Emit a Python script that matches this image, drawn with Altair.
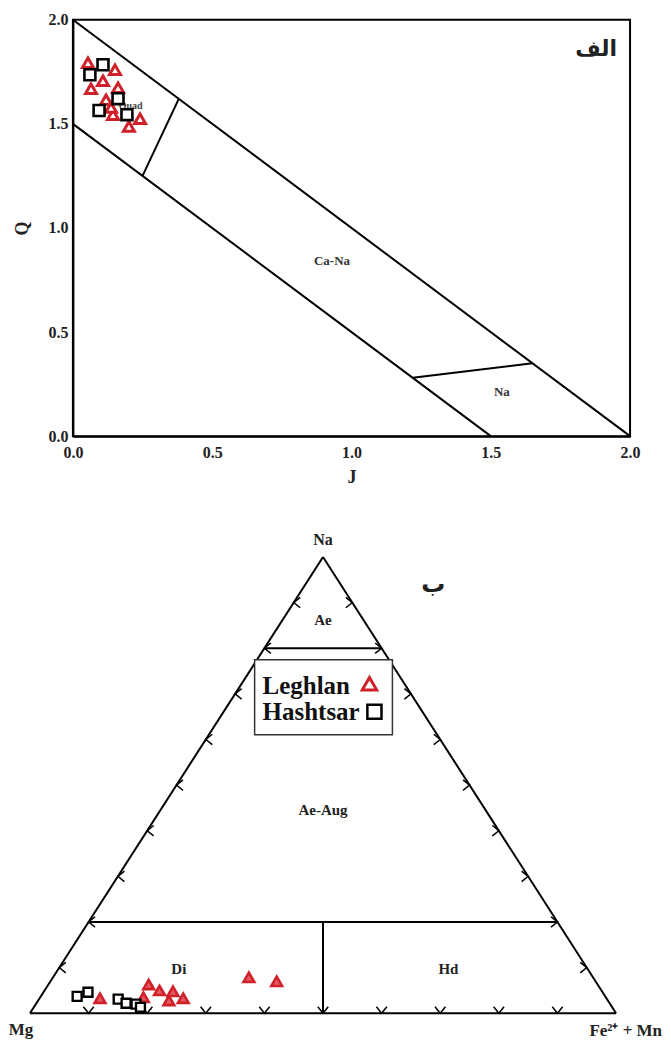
import altair as alt
import pandas as pd

# ---------------- Panel "الف": Q – J diagram ----------------
leg_J = [0.054, 0.151, 0.065, 0.108, 0.162, 0.119, 0.144, 0.201, 0.241, 0.137]
leg_Q = [1.794, 1.760, 1.669, 1.707, 1.674, 1.616, 1.544, 1.487, 1.525, 1.578]
hash_J = [0.061, 0.108, 0.162, 0.094, 0.194]
hash_Q = [1.736, 1.784, 1.621, 1.564, 1.544]

seg_J1 = [0.0, 0.0, 0.25, 1.22]
seg_Q1 = [2.0, 1.5, 1.25, 0.28]
seg_J2 = [2.0, 1.5, 0.38, 1.65]
seg_Q2 = [0.0, 0.0, 1.62, 0.35]

field_names = ["Ca-Na", "Na"]
field_J = [0.93, 1.54]
field_Q = [0.84, 0.21]
quad_name = ["Quad"]
quad_J = [0.25]
quad_Q = [1.585]

axis_ticks = [0.0, 0.5, 1.0, 1.5, 2.0]

# ---------------- Panel "ب": Na – Mg – (Fe2+ + Mn) ternary ----------------
t_leg_na = [0.033, 0.035, 0.063, 0.050, 0.048, 0.028, 0.033, 0.079, 0.070]
t_leg_fe = [0.103, 0.176, 0.171, 0.196, 0.220, 0.223, 0.245, 0.334, 0.386]
t_hash_na = [0.037, 0.046, 0.031, 0.022, 0.020, 0.013]
t_hash_fe = [0.062, 0.076, 0.135, 0.153, 0.171, 0.182]

# boundary lines, end points as (Na, Fe) fractions
bnd_na1 = [0.0, 1.0, 0.0, 0.8, 0.2, 0.0]
bnd_fe1 = [0.0, 0.0, 0.0, 0.0, 0.0, 0.5]
bnd_na2 = [1.0, 0.0, 0.0, 0.8, 0.2, 0.2]
bnd_fe2 = [0.0, 1.0, 1.0, 0.2, 0.8, 0.4]

tick_steps = [0.1, 0.2, 0.3, 0.4, 0.5, 0.6, 0.7, 0.8, 0.9]

tern_labels = ["Ae", "Ae-Aug", "Di", "Hd"]
tern_lab_na = [0.862, 0.446, 0.096, 0.096]
tern_lab_fe = [0.069, 0.277, 0.206, 0.666]

legend_names = ["Leghlan", "Hashtsar"]

RED = "#d0202a"
SERIF = "Liberation Serif"


def tern_u(na, fe):
    return [f + n / 2.0 for n, f in zip(na, fe)]


# ======================= TOP PANEL =======================
W_TOP, H_TOP = 558, 417
xs = alt.Scale(domain=[0, 2], nice=False, zero=False)
ys = alt.Scale(domain=[0, 2], nice=False, zero=False)

seg_df = pd.DataFrame({"J1": seg_J1, "Q1": seg_Q1, "J2": seg_J2, "Q2": seg_Q2})
axis_common = dict(
    values=axis_ticks, format=".1f", grid=False, ticks=False,
    domainColor="black", domainWidth=2,
    labelFont=SERIF, labelFontSize=16, labelFontWeight="bold", labelColor="#222",
    titleFont=SERIF, titleFontSize=18, titleFontWeight="bold", titleColor="#222",
    labelFlush=False,
)

top_lines = alt.Chart(seg_df).mark_rule(color="black", strokeWidth=2).encode(
    x=alt.X("J1:Q", scale=xs, axis=alt.Axis(title="J", labelPadding=8, titlePadding=8, **axis_common)),
    y=alt.Y("Q1:Q", scale=ys, axis=alt.Axis(title="Q", labelPadding=5, titlePadding=16, **axis_common)),
    x2="J2:Q",
    y2="Q2:Q",
)

field_df = pd.DataFrame({"name": field_names, "J": field_J, "Q": field_Q})
top_fields = alt.Chart(field_df).mark_text(
    font=SERIF, fontSize=13, fontWeight="bold", color="#333"
).encode(x=alt.X("J:Q", scale=xs), y=alt.Y("Q:Q", scale=ys), text="name:N")

quad_df = pd.DataFrame({"name": quad_name, "J": quad_J, "Q": quad_Q})
top_quad = alt.Chart(quad_df).mark_text(
    font=SERIF, fontSize=10, fontWeight="bold", color="#444", align="right"
).encode(x=alt.X("J:Q", scale=xs), y=alt.Y("Q:Q", scale=ys), text="name:N")

top_tag = alt.Chart(pd.DataFrame({"t": ["الف"]})).mark_text(
    font="DejaVu Sans", fontSize=22, fontWeight="bold", color="#222"
).encode(x=alt.value(524), y=alt.value(29), text="t:N")

leg_df = pd.DataFrame({"J": leg_J, "Q": leg_Q})
hash_df = pd.DataFrame({"J": hash_J, "Q": hash_Q})
top_leg = alt.Chart(leg_df).mark_point(
    shape="triangle-up", size=120, filled=True, fill="white", stroke=RED, strokeWidth=3, opacity=1
).encode(x=alt.X("J:Q", scale=xs), y=alt.Y("Q:Q", scale=ys))
top_hash = alt.Chart(hash_df).mark_point(
    shape="square", size=120, filled=True, fill="white", stroke="black", strokeWidth=2.6, opacity=1
).encode(x=alt.X("J:Q", scale=xs), y=alt.Y("Q:Q", scale=ys))

top = alt.layer(top_lines, top_fields, top_quad, top_tag, top_leg, top_hash).properties(
    width=W_TOP, height=H_TOP,
    view=alt.ViewBackground(stroke="black", strokeWidth=2),
)

# ======================= BOTTOM PANEL (ternary) =======================
W_BOT, H_BOT = 544, 457
U_LEFT = 43.0 / 587.0
us = alt.Scale(domain=[U_LEFT, 1.0], nice=False, zero=False)
vs = alt.Scale(domain=[0.0, 1.0], nice=False, zero=False)

bnd_df = pd.DataFrame({
    "u1": tern_u(bnd_na1, bnd_fe1), "v1": bnd_na1,
    "u2": tern_u(bnd_na2, bnd_fe2), "v2": bnd_na2,
})
bot_lines = alt.Chart(bnd_df).mark_rule(color="black", strokeWidth=2).encode(
    x=alt.X("u1:Q", scale=us, axis=None),
    y=alt.Y("v1:Q", scale=vs, axis=None),
    x2="u2:Q", y2="v2:Q",
)

zeros = [0.0] * len(tick_steps)
base_df = pd.DataFrame({"u": tern_u(zeros, tick_steps), "v": zeros})
left_df = pd.DataFrame({"u": tern_u(tick_steps, zeros), "v": tick_steps})
right_df = pd.DataFrame({"u": tern_u(tick_steps, [1 - s for s in tick_steps]), "v": tick_steps})


def chevrons(df, path):
    return alt.Chart(df).mark_point(
        shape=path, size=170, filled=False, color="black", strokeWidth=1.5, opacity=1
    ).encode(x=alt.X("u:Q", scale=us), y=alt.Y("v:Q", scale=vs))


tick_base = chevrons(base_df, "M-0.8,-1L0,0L0.8,-1")
tick_left = chevrons(left_df, "M1,-0.8L0,0L1,0.8")
tick_right = chevrons(right_df, "M-1,-0.8L0,0L-1,0.8")

lab_df = pd.DataFrame({"name": tern_labels, "u": tern_u(tern_lab_na, tern_lab_fe), "v": tern_lab_na})
bot_fields = alt.Chart(lab_df).mark_text(
    font=SERIF, fontSize=15, fontWeight="bold", color="#222"
).encode(x=alt.X("u:Q", scale=us), y=alt.Y("v:Q", scale=vs), text="name:N")

apex_na = alt.Chart(pd.DataFrame({"t": ["Na"], "u": tern_u([1.0], [0.0]), "v": [1.0]})).mark_text(
    font=SERIF, fontSize=16, fontWeight="bold", color="#222", dy=-17
).encode(x=alt.X("u:Q", scale=us), y=alt.Y("v:Q", scale=vs), text="t:N")
apex_mg = alt.Chart(pd.DataFrame({"t": ["Mg"], "u": tern_u([0.0], [0.0]), "v": [0.0]})).mark_text(
    font=SERIF, fontSize=17, fontWeight="bold", color="#222", dx=-9, dy=17
).encode(x=alt.X("u:Q", scale=us), y=alt.Y("v:Q", scale=vs), text="t:N")
apex_fe = alt.Chart(pd.DataFrame({"t": ["Fe²⁺ + Mn"], "u": tern_u([0.0], [1.0]), "v": [0.0]})).mark_text(
    font=SERIF, fontSize=17, fontWeight="bold", color="#222", align="right", dx=46, dy=18
).encode(x=alt.X("u:Q", scale=us), y=alt.Y("v:Q", scale=vs), text="t:N")

bot_tag = alt.Chart(pd.DataFrame({"t": ["ب"]})).mark_text(
    font="DejaVu Sans", fontSize=24, fontWeight="bold", color="#222"
).encode(x=alt.value(361), y=alt.value(28), text="t:N")

t_leg_df = pd.DataFrame({"u": tern_u(t_leg_na, t_leg_fe), "v": t_leg_na})
t_hash_df = pd.DataFrame({"u": tern_u(t_hash_na, t_hash_fe), "v": t_hash_na})
bot_leg = alt.Chart(t_leg_df).mark_point(
    shape="triangle-up", size=115, filled=True, fill="#e25a5e", stroke=RED, strokeWidth=2.6, opacity=1
).encode(x=alt.X("u:Q", scale=us), y=alt.Y("v:Q", scale=vs))
bot_hash = alt.Chart(t_hash_df).mark_point(
    shape="square", size=80, filled=True, fill="white", stroke="black", strokeWidth=2.4, opacity=1
).encode(x=alt.X("u:Q", scale=us), y=alt.Y("v:Q", scale=vs))

# manual legend (symbols to the right of the names)
leg_box = alt.Chart(pd.DataFrame({"a": [0]})).mark_rect(
    fill="white", stroke="#333", strokeWidth=1.5
).encode(x=alt.value(182), x2=alt.value(320), y=alt.value(103), y2=alt.value(178))
leg_txt1 = alt.Chart(pd.DataFrame({"t": [legend_names[0]]})).mark_text(
    font=SERIF, fontSize=25, fontWeight="bold", color="#111", align="left"
).encode(x=alt.value(190), y=alt.value(129), text="t:N")
leg_txt2 = alt.Chart(pd.DataFrame({"t": [legend_names[1]]})).mark_text(
    font=SERIF, fontSize=25, fontWeight="bold", color="#111", align="left"
).encode(x=alt.value(190), y=alt.value(155), text="t:N")
leg_sym1 = alt.Chart(pd.DataFrame({"a": [0]})).mark_point(
    shape="triangle-up", size=210, filled=False, color=RED, strokeWidth=3, opacity=1
).encode(x=alt.value(297), y=alt.value(127))
leg_sym2 = alt.Chart(pd.DataFrame({"a": [0]})).mark_point(
    shape="square", size=200, filled=False, color="black", strokeWidth=2.5, opacity=1
).encode(x=alt.value(302), y=alt.value(155))

bottom = alt.layer(
    bot_lines, tick_base, tick_left, tick_right, bot_fields, apex_na, apex_mg, apex_fe,
    bot_tag, bot_leg, bot_hash, leg_box, leg_txt1, leg_txt2, leg_sym1, leg_sym2,
).properties(
    width=W_BOT, height=H_BOT,
    view=alt.ViewBackground(stroke="transparent"),
)

chart = alt.vconcat(top, bottom, spacing=44).properties(
    padding={"left": 0, "top": 2, "right": 0, "bottom": 0}
).configure(background="white")

chart.save("out.html", embed_options={"renderer": "svg", "actions": False})
